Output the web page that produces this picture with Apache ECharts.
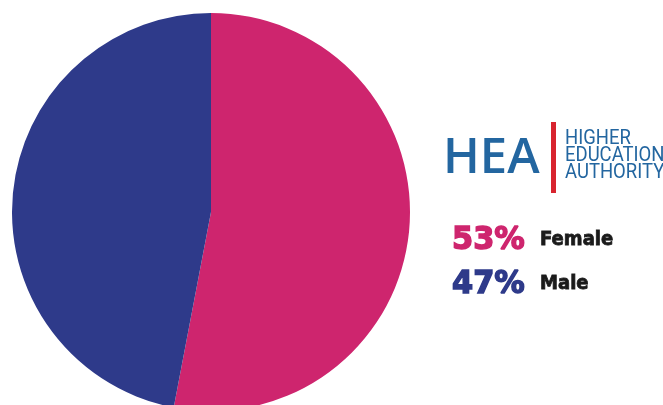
<!DOCTYPE html>
<html><head><meta charset="utf-8">
<script src="https://cdn.jsdelivr.net/npm/echarts@6/dist/echarts.min.js"></script>
<style>html,body{margin:0;padding:0;background:#fff}#c{width:663px;height:405px}</style>
</head><body><div id="c"></div>
<script>
const categories = ['Female', 'Male'];
const values = [53, 47];
const colors = ['#CE256E', '#2E3A8A'];

const chart = echarts.init(document.getElementById('c'));
const legendItems = [];
categories.forEach((c, i) => {
  const y = 230 + i * 44;
  legendItems.push({type:'text', x:452, y:y - 5, scaleX:0.95, style:{text: values[i] + '%', fill: colors[i], stroke: colors[i], lineWidth:1.5, font:'bold 32px "DejaVu Sans"'}});
  legendItems.push({type:'text', x:540, y:y + 1, scaleX:0.95, style:{text: c, fill:'#1a1a1a', stroke:'#1a1a1a', lineWidth:0.8, font:'bold 19px "DejaVu Sans"'}});
});
chart.setOption({
  animation:false,
  series:[{
    type:'pie', center:[211,212], radius:199, startAngle:90, clockwise:true,
    label:{show:false}, labelLine:{show:false},
    itemStyle:{borderWidth:0},
    data: categories.map((c,i)=>({name:c, value:values[i], itemStyle:{color:colors[i]}}))
  }],
  graphic:[
    {type:'text', x:443, y:135, style:{text:'HEA', fill:'#2366A0', font:'600 49px "Open Sans"'}},
    {type:'rect', shape:{x:551, y:122, width:5, height:71}, style:{fill:'#D8242F'}},
    {type:'text', x:565, y:130, scaleX:0.88, style:{text:'HIGHER\nEDUCATION\nAUTHORITY', fill:'#2366A0', font:'21px Roboto', lineHeight:17}},
    ...legendItems
  ]
});
</script></body></html>
